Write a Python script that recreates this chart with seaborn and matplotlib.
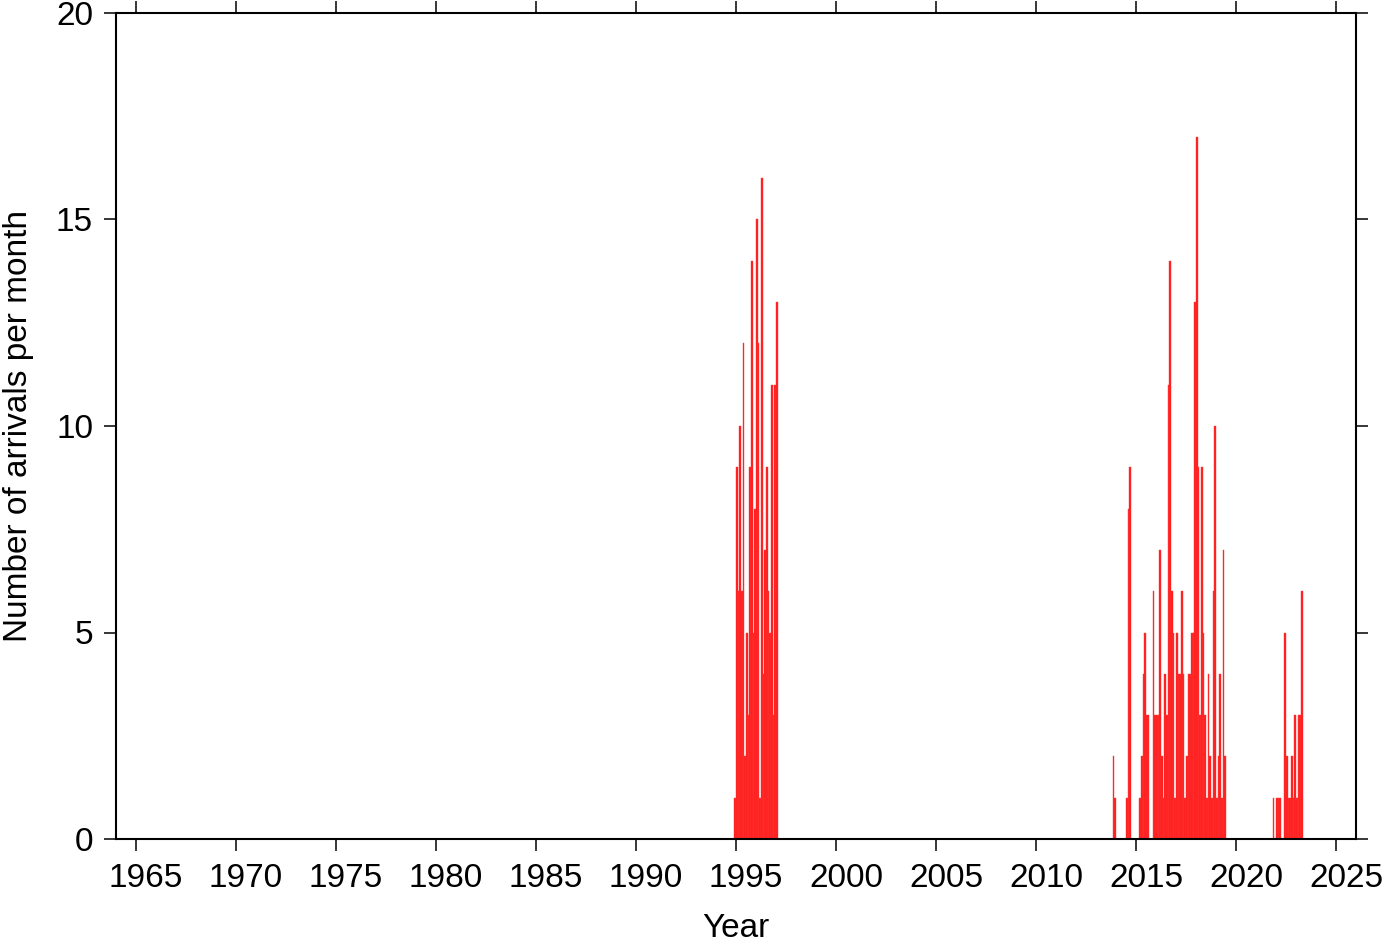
import numpy as np
import pandas as pd
import matplotlib
matplotlib.use("Agg")
import matplotlib.pyplot as plt
import seaborn as sns

# monthly arrival counts, each block starts at the given month
start_1995 = "1994-12"
counts_1995 = [1, 9, 6, 10, 6, 12, 2, 5, 3, 9, 14, 5, 8, 15, 12, 1, 16, 4, 7, 9,
               6, 5, 11, 3, 11, 13]

start_2015 = "2013-11"
counts_2015 = [2, 1, 0, 0, 0, 0, 0, 0, 1, 8, 9, 0, 0, 0, 0, 0,
               1, 2, 4, 5, 3, 3, 0, 0, 6, 3,
               3, 3, 7, 2, 1, 4, 3, 11, 14, 6, 5, 1,
               5, 4, 4, 6, 4, 1, 2, 4, 4, 5, 5, 13,
               17, 9, 3, 9, 5, 3, 1, 4, 2, 1, 6, 10,
               1, 2, 4, 1, 7, 2]

start_2022 = "2021-11"
counts_2022 = [1, 0, 1, 1, 1, 0, 0, 5, 2, 1, 1, 2, 1, 3, 1, 3, 3, 6]

year_ticks = [1965, 1970, 1975, 1980, 1985, 1990, 1995, 2000, 2005, 2010, 2015, 2020, 2025]
count_ticks = [0, 5, 10, 15, 20]

#BUILD TABLE
parts = []
for start, counts in [(start_1995, counts_1995), (start_2015, counts_2015), (start_2022, counts_2022)]:
    months = pd.date_range(start, periods=len(counts), freq="MS")
    parts.append(pd.DataFrame({"year": months.year + (months.month - 0.5) / 12, "count": counts}))
df = pd.concat(parts, ignore_index=True)
df = df[df["count"] > 0]

#PLOT
sns.set_style("ticks")
plt.rcParams["font.family"] = ["Liberation Sans", "DejaVu Sans"]
plt.rcParams["axes.labelcolor"] = "black"

fig = plt.figure(figsize=(13.82, 9.42), dpi=100)
ax = fig.add_axes([116 / 1382, 1 - 839 / 942, 1240 / 1382, 826 / 942])

sns.histplot(data=df, x="year", weights="count", binwidth=1 / 12, binrange=(1964, 2026),
             ax=ax, color="#ff1c1c", alpha=1, edgecolor="#ff3a3a", linewidth=0.3)

ax.set_xlim(1964, 2026)
ax.set_ylim(0, 20)
ax.set_yticks(count_ticks)

# year labels sit in the middle of each year, ticks at the year start
ax.set_xticks(year_ticks, labels=[])
ax.set_xticks([y + 0.5 for y in year_ticks], labels=[str(y) for y in year_ticks], minor=True)
ax.tick_params(axis="x", which="minor", length=0, labelsize=24, pad=17, top=False,
               labelcolor="black")

ax.set_xlabel("Year", fontsize=24, labelpad=14)
ax.set_ylabel("Number of arrivals per month", fontsize=24, labelpad=16)

ax.tick_params(which="major", direction="out", length=8.5, width=1.1, labelsize=24, pad=8,
               top=True, right=True, colors="black")
for s in ax.spines.values():
    s.set_visible(True)
    s.set_linewidth(1.5)
    s.set_color("black")

fig.savefig("out.png", dpi=100)
